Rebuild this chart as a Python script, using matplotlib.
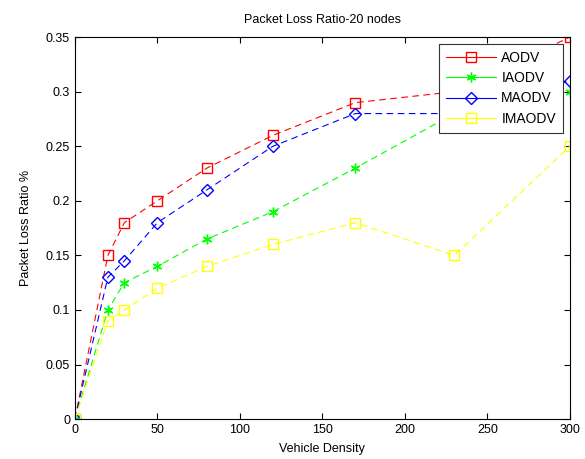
import numpy as np
import matplotlib.pyplot as plt

plt.rcParams['font.family'] = ['Liberation Sans', 'DejaVu Sans']

density = [0, 20, 30, 50, 80, 120, 170, 230, 300]
aodv = [0, 0.15, 0.18, 0.20, 0.23, 0.26, 0.29, 0.30, 0.35]
iaodv = [0, 0.10, 0.125, 0.14, 0.165, 0.19, 0.23, 0.28, 0.30]
maodv = [0, 0.13, 0.145, 0.18, 0.21, 0.25, 0.28, 0.28, 0.31]
imaodv = [0, 0.09, 0.10, 0.12, 0.14, 0.16, 0.18, 0.15, 0.25]

fig = plt.figure(figsize=(5.85, 4.59), dpi=100)
ax = fig.add_axes([0.128, 0.087, 0.846, 0.832])

dash = (0, (6, 4))
ax.plot(density, aodv, color='red', ls=dash, lw=0.8, marker='s', ms=7, mfc='none', label='AODV')
ax.plot(density, iaodv, color='#00ff00', ls=dash, lw=0.8, marker=(6, 2, 0), ms=7, mew=1.0, label='IAODV')
ax.plot(density, maodv, color='blue', ls=dash, lw=0.8, marker='D', ms=6, mfc='none', label='MAODV')
ax.plot(density, imaodv, color='yellow', ls=dash, lw=0.8, marker='s', ms=7, mfc='none', label='IMAODV')

ax.set_xlim(0, 300)
ax.set_ylim(0, 0.35)
ax.set_xticks(np.arange(0, 301, 50))
ax.set_yticks(np.arange(0, 0.351, 0.05))
ax.set_yticklabels(['0', '0.05', '0.1', '0.15', '0.2', '0.25', '0.3', '0.35'])
ax.tick_params(direction='in', top=True, right=True, labelsize=9, length=4)
for s in ax.spines.values():
    s.set_linewidth(0.8)

ax.set_xlabel('Vehicle Density', fontsize=9, labelpad=5)
ax.set_ylabel('Packet Loss Ratio %', fontsize=9, labelpad=10)
ax.set_title('Packet Loss Ratio-20 nodes', fontsize=9, pad=10)

leg = ax.legend(loc='upper right', bbox_to_anchor=(0.986, 0.982), borderaxespad=0,
                fontsize=10, fancybox=False, framealpha=1, edgecolor='#333333',
                handlelength=3.6, borderpad=0.5, labelspacing=0.45, handletextpad=0.4)
leg.get_frame().set_linewidth(0.8)
for line in leg.get_lines():
    line.set_linestyle('-')

fig.savefig('out.png', dpi=100)
